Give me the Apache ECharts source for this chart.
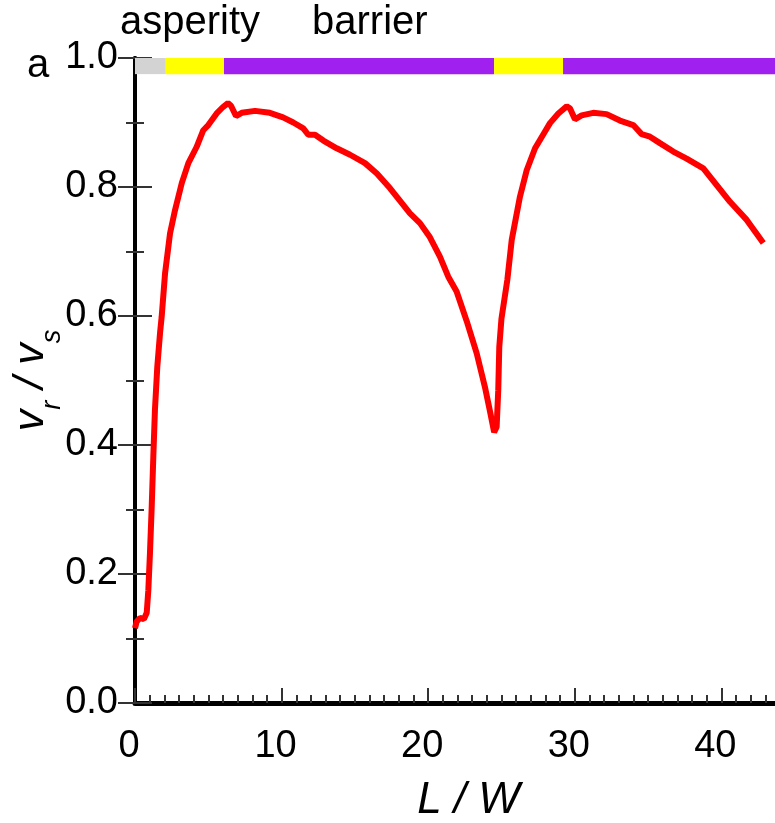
<!DOCTYPE html>
<html><head><meta charset="utf-8">
<script src="https://cdn.jsdelivr.net/npm/echarts@6/dist/echarts.min.js"></script>
<style>html,body{margin:0;padding:0;background:#fff;overflow:hidden}#c{width:775px;height:823px}</style>
</head><body><div id="c"></div>
<script>
// L / W positions
const xValues = [0, 0.11, 0.34, 0.61, 0.8, 0.91, 1.02, 1.14, 1.25, 1.36, 1.52, 1.71, 1.82, 2.05, 2.39, 2.73, 3.19, 3.64, 4.2, 4.66, 5.0, 5.57, 6.0, 6.34, 6.55, 6.89, 7.28, 8.19, 9.2, 10.1, 10.8, 11.48, 11.82, 12.28, 12.85, 13.76, 14.67, 15.69, 16.5, 17.4, 17.85, 18.76, 19.44, 20.12, 20.8, 21.37, 21.94, 22.63, 23.31, 23.87, 24.2, 24.5, 24.67, 24.78, 24.85, 25.0, 25.4, 25.7, 26.26, 26.72, 27.29, 27.97, 28.31, 28.88, 29.45, 29.67, 30.01, 30.47, 31.26, 32.17, 33.08, 33.99, 34.56, 35.13, 35.81, 36.72, 37.63, 38.77, 39.68, 40.59, 41.73, 42.86];
// v_r / v_s values
const vrVs = [0.116, 0.126, 0.132, 0.13, 0.14, 0.175, 0.232, 0.304, 0.382, 0.454, 0.521, 0.574, 0.599, 0.666, 0.728, 0.764, 0.806, 0.837, 0.862, 0.888, 0.896, 0.914, 0.924, 0.93, 0.926, 0.91, 0.915, 0.918, 0.915, 0.908, 0.9, 0.891, 0.881, 0.881, 0.872, 0.86, 0.85, 0.837, 0.821, 0.798, 0.785, 0.759, 0.744, 0.722, 0.692, 0.661, 0.638, 0.592, 0.542, 0.49, 0.454, 0.42, 0.428, 0.485, 0.552, 0.596, 0.656, 0.718, 0.785, 0.826, 0.86, 0.886, 0.899, 0.914, 0.925, 0.922, 0.905, 0.911, 0.915, 0.913, 0.903, 0.896, 0.882, 0.878, 0.868, 0.855, 0.844, 0.829, 0.803, 0.777, 0.749, 0.713];
// fault zones along the top
const zoneStart = [0, 2.1, 6.07, 24.5, 29.2];
const zoneEnd = [2.1, 6.07, 24.5, 29.2, 44];
const zoneType = ['none', 'asperity', 'barrier', 'asperity', 'barrier'];
const zoneLabels = ['asperity', 'barrier'];
const panelLabel = 'a';

const zoneColor = { none: '#d3d3d3', asperity: '#ffff00', barrier: '#a020f0' };
const chart = echarts.init(document.getElementById('c'));
const FONT = '"Liberation Sans", Arial, sans-serif';
const tickFont = { fontFamily: FONT, fontSize: 38, color: '#000' };
const tickLine = { color: '#333', width: 2 };

chart.setOption({
  animation: false,
  backgroundColor: '#fff',
  grid: { left: 135, right: -5, top: 58, bottom: 120, outerBoundsMode: 'none', containLabel: false },
  xAxis: [{
    type: 'value', min: 0, max: 44, interval: 10, position: 'bottom',
    axisLine: { lineStyle: { color: '#000', width: 5 } },
    axisTick: { inside: true, length: 15, lineStyle: tickLine },
    minorTick: { show: true, splitNumber: 10, length: 8, lineStyle: tickLine },
    splitLine: { show: false },
    axisLabel: Object.assign({ margin: 25, showMaxLabel: false, padding: [0, 12, 0, 0] }, tickFont),
    name: 'L / W', nameLocation: 'middle', nameGap: 76, nameMoveOverlap: false,
    nameTextStyle: { fontFamily: FONT, fontStyle: 'italic', fontSize: 44, color: '#000', padding: [0, 0, 0, 22], verticalAlign: 'top' }
  }, {
    type: 'value', min: 0, max: 44, interval: 10, position: 'top',
    axisLine: { lineStyle: { color: '#000', width: 4 } },
    axisTick: { show: false }, axisLabel: { show: false }, splitLine: { show: false }
  }],
  yAxis: [{
    type: 'value', min: 0, max: 1, interval: 0.2, position: 'left',
    axisLine: { lineStyle: { color: '#000', width: 4 } },
    axisTick: { inside: true, length: 17, lineStyle: tickLine },
    minorTick: { show: true, splitNumber: 2, length: 9, lineStyle: tickLine },
    splitLine: { show: false },
    axisLabel: Object.assign({ margin: 17, formatter: v => v.toFixed(1) }, tickFont),
    name: '{v|v}{s|r}{v| / v}{s|s}', nameLocation: 'middle', nameGap: 69, nameRotate: 90, nameMoveOverlap: false,
    nameTextStyle: {
      rich: {
        v: { fontFamily: FONT, fontStyle: 'italic', fontSize: 43, lineHeight: 70, color: '#000' },
        s: { fontFamily: FONT, fontStyle: 'italic', fontSize: 27, lineHeight: 26, verticalAlign: 'bottom', color: '#000' }
      }
    }
  }, {
    type: 'value', min: 0, max: 1, interval: 0.2, position: 'right',
    axisLine: { lineStyle: { color: '#000', width: 4 } },
    axisTick: { inside: true, length: 17, lineStyle: tickLine },
    minorTick: { show: true, splitNumber: 2, length: 9, lineStyle: tickLine },
    splitLine: { show: false }, axisLabel: { show: false }
  }],
  graphic: [
    { type: 'text', left: 120, top: 3, style: { text: zoneLabels[0], font: '40px ' + FONT, fill: '#000' } },
    { type: 'text', left: 312, top: 3, style: { text: zoneLabels[1], font: '40px ' + FONT, fill: '#000' } },
    { type: 'text', left: 27, top: 46, style: { text: panelLabel, font: '40px ' + FONT, fill: '#000' } }
  ],
  series: [{
    type: 'line',
    data: xValues.map((x, i) => [x, vrVs[i]]),
    showSymbol: false, symbol: 'none',
    lineStyle: { color: '#ff0000', width: 6 },
    clip: false,
    markArea: {
      silent: true,
      data: zoneStart.map((s, i) => [
        { xAxis: s, yAxis: 0.975, itemStyle: { color: zoneColor[zoneType[i]], opacity: 1 } },
        { xAxis: zoneEnd[i], yAxis: 1 }
      ])
    }
  }]
});
</script></body></html>
